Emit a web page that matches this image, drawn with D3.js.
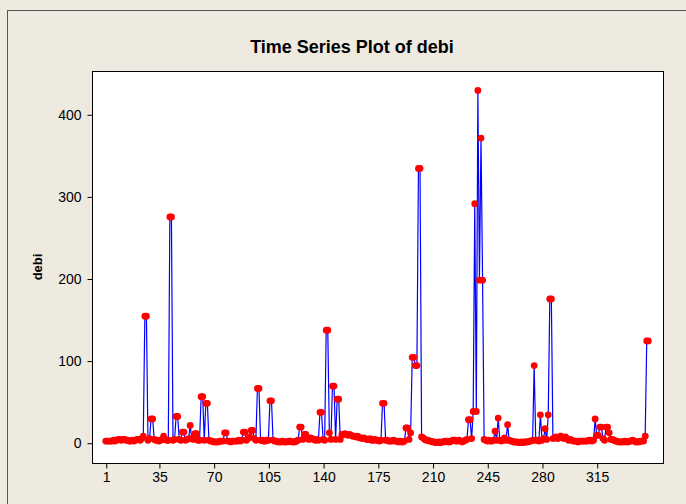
<!DOCTYPE html>
<html>
<head>
<meta charset="utf-8">
<script src="https://cdn.jsdelivr.net/npm/d3@7"></script>
<style>
  html, body { margin: 0; padding: 0; background: #EEEAE0; }
  svg { display: block; }
  text { font-family: Arial, "Liberation Sans", sans-serif; }
</style>
</head>
<body>
<svg id="chart" width="686" height="504"></svg>
<script>
// ---- data ----
const title = "Time Series Plot of debi";
const yLabel = "debi";
const xTickValues = [1, 35, 70, 105, 140, 175, 210, 245, 280, 315];
const yTickValues = [0, 100, 200, 300, 400];

const debi = [
  // 1-24
  2,2,2,2,2,3,2,3,4,4,3,4,4,3,3,2,2,3,2,3,4,4,3,5,
  // 25-41
  8,154,154,3,5,29,29,4,3,3,2,3,4,8,4,3,3,
  // 42-67
  275,275,3,4,32,32,4,3,13,13,3,4,5,21,5,4,11,11,3,3,56,56,3,48,48,3,
  // 68-97
  2,2,1,1,1,1,2,2,2,12,12,2,2,1,2,2,2,2,3,2,3,13,13,3,5,7,15,15,5,3,
  // 98-124
  66,66,3,3,2,2,3,3,51,51,3,2,2,1,1,1,2,1,1,1,2,2,1,1,1,2,3,
  // 125-151
  19,19,4,10,10,5,4,6,5,4,3,4,3,37,37,4,3,137,137,12,4,69,69,4,53,53,4,
  // 152-177
  10,10,11,10,9,10,9,8,8,7,8,6,6,5,6,5,4,4,5,3,3,4,3,3,2,3,
  // 178-196
  48,48,3,3,2,2,2,3,2,2,1,2,1,1,2,18,18,4,12,
  // 197-232
  104,104,94,94,334,334,7,6,4,3,3,2,2,1,1,0,0,1,0,1,1,2,2,1,1,2,3,3,2,2,3,2,1,2,3,4,
  // 233-243
  28,28,5,38,291,38,429,198,371,198,4,
  // 244-274
  3,2,3,2,2,3,14,3,30,3,2,3,6,3,22,3,2,2,1,1,1,0,0,1,0,1,1,1,2,2,3,
  // 275-287
  94,3,3,2,34,3,5,17,4,34,175,175,5,
  // 288-313
  6,7,5,6,8,6,5,7,5,3,4,3,2,2,2,1,2,2,2,2,2,2,3,3,2,3,
  // 314-326
  29,9,9,19,19,5,3,19,19,12,4,4,3,
  // 327-348
  2,2,1,1,1,1,2,1,1,2,2,3,2,1,1,1,2,2,2,8,124,124
];
const index = debi.map((d, i) => i + 1);

// ---- layout ----
const svg = d3.select("#chart");
const W = 686, H = 504;
const plot = { left: 92, right: 663, top: 71, bottom: 463 };

svg.append("rect").attr("x", 0).attr("y", 0).attr("width", W).attr("height", H).attr("fill", "#EEEAE0");
// outer panel frame
svg.append("line").attr("x1", 7.5).attr("y1", 10).attr("x2", 7.5).attr("y2", H).attr("stroke", "#555").attr("stroke-width", 1);
svg.append("line").attr("x1", 7).attr("y1", 10.5).attr("x2", W).attr("y2", 10.5).attr("stroke", "#555").attr("stroke-width", 1);

const x = d3.scaleLinear().domain([-7.8, 357.4]).range([plot.left, plot.right]);
const y = d3.scaleLinear().domain([-24.7, 452.7]).range([plot.bottom, plot.top]);

// plot area
svg.append("rect")
  .attr("x", plot.left + 0.5).attr("y", plot.top + 0.5)
  .attr("width", plot.right - plot.left).attr("height", plot.bottom - plot.top)
  .attr("fill", "#FFFFFF").attr("stroke", "#000").attr("stroke-width", 1);

// axes
const xAxis = d3.axisBottom(x).tickValues(xTickValues).tickSize(5).tickSizeOuter(0).tickPadding(4);
const gx = svg.append("g").attr("transform", `translate(0.5,${plot.bottom + 0.5})`).call(xAxis);
gx.select(".domain").remove();
gx.selectAll("line").attr("stroke", "#000");
gx.selectAll("text").attr("font-size", 14).attr("fill", "#000");

const yAxis = d3.axisLeft(y).tickValues(yTickValues).tickSize(5).tickSizeOuter(0).tickPadding(6);
const gy = svg.append("g").attr("transform", `translate(${plot.left + 0.5},0.5)`).call(yAxis);
gy.select(".domain").remove();
gy.selectAll("line").attr("stroke", "#000");
gy.selectAll("text").attr("font-size", 14).attr("fill", "#000");

// data line
const line = d3.line().x((d, i) => x(index[i])).y(d => y(d));
svg.append("path").datum(debi)
  .attr("d", line)
  .attr("fill", "none").attr("stroke", "#0000FF").attr("stroke-width", 1.2);

// points
svg.append("g").selectAll("circle").data(debi).join("circle")
  .attr("cx", (d, i) => x(index[i])).attr("cy", d => y(d))
  .attr("r", 3.4).attr("fill", "#FF0000");

// title
svg.append("text").attr("x", 352).attr("y", 53).attr("text-anchor", "middle")
  .attr("font-size", 18).attr("font-weight", "bold").attr("fill", "#000").text(title);

// y label
svg.append("text").attr("transform", `translate(42,${(plot.top + plot.bottom) / 2}) rotate(-90)`)
  .attr("text-anchor", "middle").attr("font-size", 13).attr("font-weight", "bold").attr("fill", "#000").text(yLabel);
</script>
</body>
</html>
